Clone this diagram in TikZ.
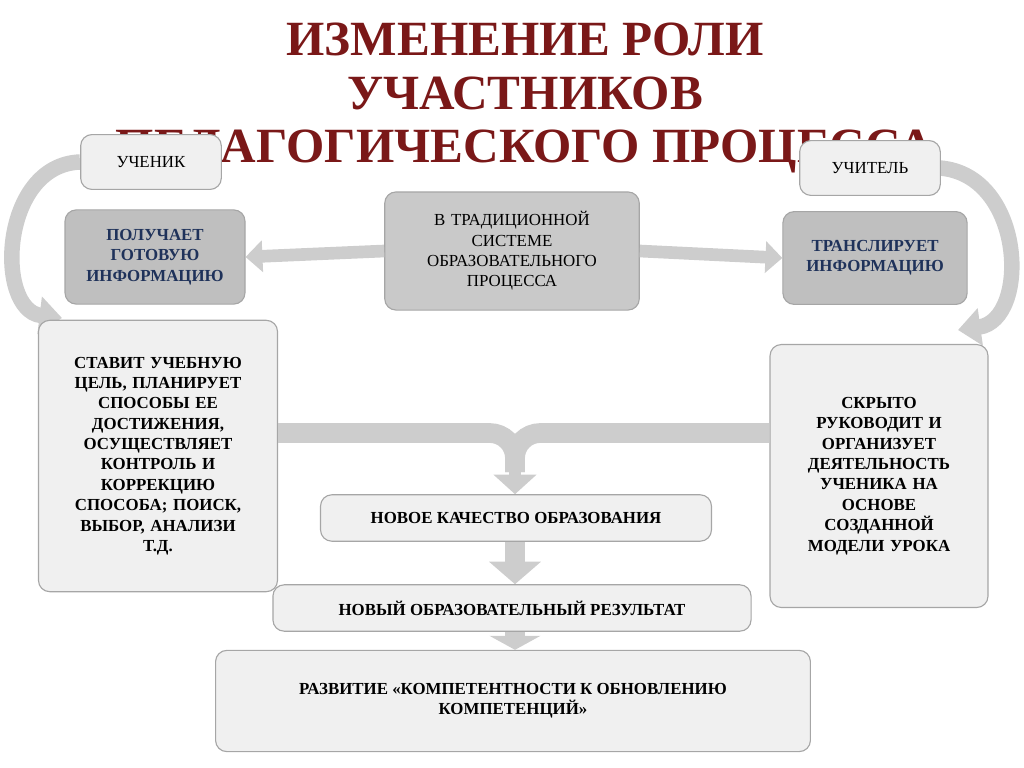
\documentclass[tikz,border=0pt]{standalone}
\usepackage{fontspec}
\setmainfont{Liberation Serif}
\usetikzlibrary{arrows.meta,positioning}
\definecolor{titlered}{RGB}{122,24,24}
\definecolor{textblue}{RGB}{31,50,90}
\definecolor{boxlight}{RGB}{240,240,240}
\definecolor{boxdark}{RGB}{191,191,191}
\definecolor{pipegray}{RGB}{205,205,205}

\begin{document}
\begin{tikzpicture}[x=0.025cm,y=-0.025cm,
    box/.style={rectangle, rounded corners=8pt, draw=gray!70, thick, fill=boxlight, align=center, font=\bfseries\fontsize{12}{14.5}\selectfont, inner sep=2pt},
    darkbox/.style={box, fill=boxdark, text=textblue},
    bigarrow/.style={line width=9pt, draw=pipegray, -{Triangle[width=22pt,length=12pt]}},
    pipe/.style={line width=14pt, draw=pipegray, rounded corners=18pt}
]
\useasboundingbox (0,0) rectangle (1024,768);

% Title
\node[text=titlered, align=center, font=\bfseries\fontsize{35}{38}\selectfont] (title) at (525,98)
    {ИЗМЕНЕНИЕ РОЛИ\\УЧАСТНИКОВ\\ПЕДАГОГИЧЕСКОГО ПРОЦЕССА};

% Curved side arrows
\draw[line width=11pt, draw=pipegray, -{Triangle[width=26pt,length=16pt]}]
    (80,162) .. controls (0,165) and (-5,310) .. (62,318);
\draw[line width=11pt, draw=pipegray, -{Triangle[width=26pt,length=16pt]}]
    (940,168) .. controls (1025,175) and (1030,320) .. (958,330);

% Top row
\node[box, minimum width=100pt, minimum height=39pt, font=\fontsize{12}{14}\selectfont] (pupil) at (151,162) {УЧЕНИК};
\node[box, minimum width=100pt, minimum height=39pt, font=\fontsize{12}{14}\selectfont] (teacher) at (870,168) {УЧИТЕЛЬ};

\node[darkbox, minimum width=128pt, minimum height=67pt] (receive) at (155,257) {ПОЛУЧАЕТ\\ГОТОВУЮ\\ИНФОРМАЦИЮ};
\node[box, fill=boxdark!85, minimum width=181pt, minimum height=84pt, text width=170pt, font=\fontsize{12}{14.5}\selectfont] (trad) at (512,251)
    {В ТРАДИЦИОННОЙ\\СИСТЕМЕ\\ОБРАЗОВАТЕЛЬНОГО\\ПРОЦЕССА};
\node[darkbox, minimum width=131pt, minimum height=66pt] (transmit) at (875,258) {ТРАНСЛИРУЕТ\\ИНФОРМАЦИЮ};

% Side boxes
\node[box, minimum width=170pt, minimum height=193pt, text width=160pt] (setgoal) at (158,456)
    {СТАВИТ УЧЕБНУЮ\\ЦЕЛЬ, ПЛАНИРУЕТ\\СПОСОБЫ ЕЕ\\ДОСТИЖЕНИЯ,\\ОСУЩЕСТВЛЯЕТ\\КОНТРОЛЬ И\\КОРРЕКЦИЮ\\СПОСОБА; ПОИСК,\\ВЫБОР, АНАЛИЗИ\\Т.Д.};
\node[box, minimum width=155pt, minimum height=187pt, text width=150pt] (guide) at (879,476)
    {СКРЫТО\\РУКОВОДИТ И\\ОРГАНИЗУЕТ\\ДЕЯТЕЛЬНОСТЬ\\УЧЕНИКА НА\\ОСНОВЕ\\СОЗДАННОЙ\\МОДЕЛИ УРОКА};

% Bottom chain
\node[box, minimum width=278pt, minimum height=33pt] (quality) at (516,518) {НОВОЕ КАЧЕСТВО ОБРАЗОВАНИЯ};
\node[box, minimum width=340pt, minimum height=33pt] (result) at (512,608) {НОВЫЙ ОБРАЗОВАТЕЛЬНЫЙ РЕЗУЛЬТАТ};
\node[box, minimum width=423pt, minimum height=72pt] (develop) at (513,701)
    {РАЗВИТИЕ «КОМПЕТЕНТНОСТИ К ОБНОВЛЕНИЮ\\КОМПЕТЕНЦИЙ»};

% Arrows
\draw[bigarrow] (trad.west) -- (receive.east);
\draw[bigarrow] (trad.east) -- (transmit.west);
\draw[pipe] (setgoal.east |- 0,433) -- (515,433) -- (515,472);
\draw[pipe] (guide.west |- 0,433) -- (515,433) -- (515,472);
\draw[line width=9pt, draw=pipegray, -{Triangle[width=30pt,length=14pt]}] (515,470) -- (quality.north -| 515,0);
\draw[line width=14pt, draw=pipegray, -{Triangle[width=36pt,length=16pt]}] (quality.south -| 515,0) -- (result.north -| 515,0);
\draw[line width=14pt, draw=pipegray, -{Triangle[width=36pt,length=10pt]}] (result.south -| 515,0) -- (develop.north -| 515,0);
\end{tikzpicture}
\end{document}
